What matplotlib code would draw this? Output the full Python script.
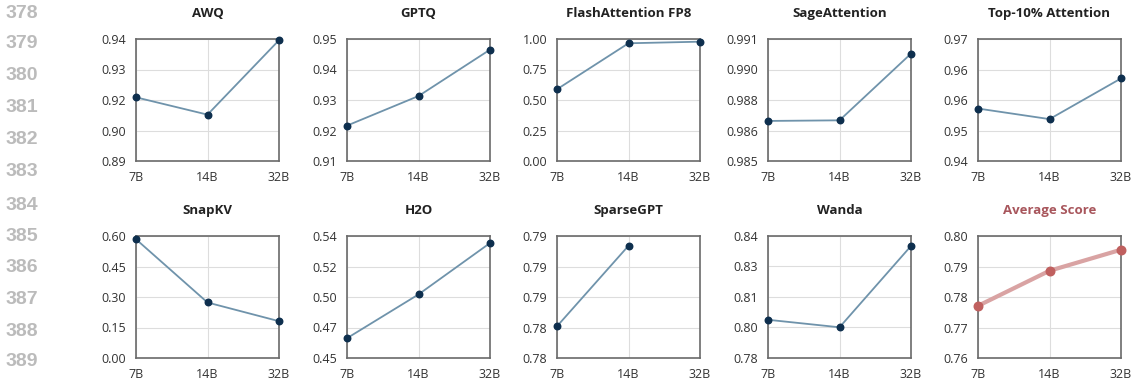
import matplotlib.pyplot as plt
import numpy as np

plt.rcParams["font.family"] = ["Open Sans", "DejaVu Sans"]

sizes = ["7B", "14B", "32B"]

titles = [
    "AWQ", "GPTQ", "FlashAttention FP8", "SageAttention", "Top-10% Attention",
    "SnapKV", "H2O", "SparseGPT", "Wanda", "Average Score",
]
awq = [0.9161, 0.9090, 0.9395]
gptq = [0.9216, 0.9313, 0.9465]
flash_fp8 = [0.588, 0.965, 0.978]
sage = [0.98697, 0.98700, 0.99028]
top10 = [0.9529, 0.9503, 0.9603]
snapkv = [0.584, 0.273, 0.181]
h2o = [0.4646, 0.4969, 0.5348]
sparsegpt = [0.7826, 0.7892, np.nan]
wanda = [0.7988, 0.7951, 0.8351]
average = [0.7771, 0.7886, 0.7955]

series = [awq, gptq, flash_fp8, sage, top10, snapkv, h2o, sparsegpt, wanda, average]
ylims = [
    (0.89, 0.94), (0.91, 0.95), (0.0, 1.0), (0.985, 0.991), (0.94, 0.97),
    (0.0, 0.60), (0.45, 0.54), (0.78, 0.79), (0.78, 0.84), (0.76, 0.80),
]
# libellés tels qu'affichés (5 graduations régulières, arrondies)
ytick_labels = [
    ["0.89", "0.90", "0.92", "0.93", "0.94"],
    ["0.91", "0.92", "0.93", "0.94", "0.95"],
    ["0.00", "0.25", "0.50", "0.75", "1.00"],
    ["0.985", "0.986", "0.988", "0.990", "0.991"],
    ["0.94", "0.95", "0.96", "0.96", "0.97"],
    ["0.00", "0.15", "0.30", "0.45", "0.60"],
    ["0.45", "0.47", "0.50", "0.52", "0.54"],
    ["0.78", "0.78", "0.79", "0.79", "0.79"],
    ["0.78", "0.80", "0.81", "0.83", "0.84"],
    ["0.76", "0.77", "0.78", "0.79", "0.80"],
]

line_numbers = list(range(378, 390))

_LINE = "#6f93ab"
_DOT = "#0e2f4e"
_AVG_LINE = "#d9a3a3"
_AVG_DOT = "#c0605f"
_AVG_TITLE = "#a8565c"
_FRAME = "#6a6a6a"

W, H = 1132, 381
fig = plt.figure(figsize=(W / 100, H / 100), dpi=100)

col_left = [136, 347, 557, 768, 978]
row_top = [39, 236]
ax_w, ax_h = 143, 122

for i, (title, vals) in enumerate(zip(titles, series)):
    r, c = divmod(i, 5)
    ax = fig.add_axes([col_left[c] / W, 1 - (row_top[r] + ax_h) / H, ax_w / W, ax_h / H])
    x = np.arange(len(sizes))
    is_avg = title == "Average Score"
    if is_avg:
        ax.plot(x, vals, color=_AVG_LINE, lw=3, zorder=3, clip_on=False)
        ax.scatter(x, vals, s=38, color=_AVG_DOT, zorder=4, clip_on=False)
    else:
        ax.plot(x, vals, color=_LINE, lw=1.3, zorder=3, clip_on=False)
        ax.scatter(x, vals, s=22, color=_DOT, zorder=4, clip_on=False)

    lo, hi = ylims[i]
    ax.set_xlim(0, 2)
    ax.set_ylim(lo, hi)
    ax.set_xticks(x)
    ax.set_xticklabels(sizes)
    ax.set_yticks(np.linspace(lo, hi, 5))
    ax.set_yticklabels(ytick_labels[i])
    ax.tick_params(length=0, labelsize=9, colors="#333333")
    ax.tick_params(axis="x", pad=7)
    ax.tick_params(axis="y", pad=7)
    ax.grid(True, color="#dddddd", lw=0.8, zorder=0)
    for s in ax.spines.values():
        s.set_color(_FRAME)
        s.set_linewidth(1.2)
    ax.set_title(title, fontsize=9.5, fontweight="bold", pad=16,
                 color=_AVG_TITLE if is_avg else "#222222")

# numéros de ligne du papier (marge gauche)
line_y = [13, 44, 76, 108, 140, 172, 205, 236, 268, 299, 331, 362]
for n, y in zip(line_numbers, line_y):
    fig.text(6 / W, 1 - y / H, str(n), fontsize=14, fontweight="bold",
             family="Liberation Sans", color="#bbbbbb", ha="left", va="center")

fig.savefig("out.png", dpi=100)
